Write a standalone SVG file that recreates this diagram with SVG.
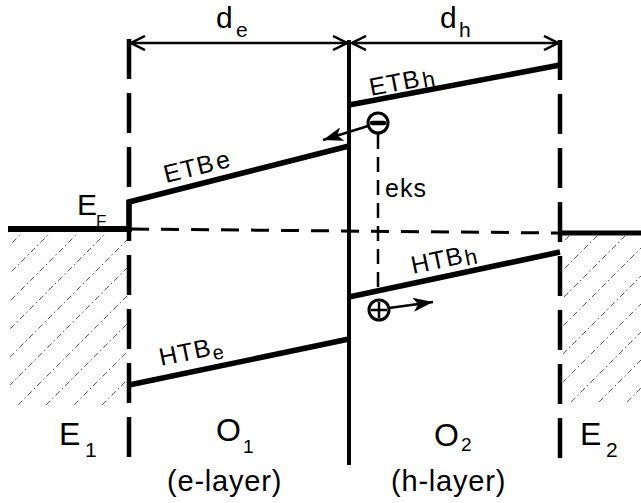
<svg xmlns="http://www.w3.org/2000/svg" width="641" height="503" viewBox="0 0 641 503">
  <style>
    .t { font-family: "Liberation Sans", Arial, sans-serif; fill: #000; }
    .band { stroke: #000; stroke-width: 5.5; fill: none; stroke-linecap: butt; }
    .vdash { stroke: #000; stroke-width: 4.5; stroke-dasharray: 40 14; fill: none; }
    .hatch { stroke: #444; stroke-width: 0.9; stroke-dasharray: 6 3 1.5 3; fill: none; }
  </style>
  <defs>
    <marker id="open" viewBox="0 0 16 16" refX="15" refY="8" markerWidth="16" markerHeight="16" markerUnits="userSpaceOnUse" orient="auto-start-reverse">
      <path d="M1,1 L15,8 L1,15" stroke="#000" stroke-width="2.5" fill="none"/>
    </marker>
    <marker id="solid" viewBox="0 0 20 14" refX="20" refY="7" markerWidth="20" markerHeight="14" markerUnits="userSpaceOnUse" orient="auto">
      <path d="M0,0 L20,7 L0,14 L5,7 z" fill="#000"/>
    </marker>
    <clipPath id="clipL"><rect x="10" y="233" width="117" height="172"/></clipPath>
    <clipPath id="clipR"><rect x="563" y="236" width="78" height="166"/></clipPath>
  </defs>

  <g id="electrode-E1">
    <g clip-path="url(#clipL)">
      <path class="hatch" d="M-150,405 L22,233 M-122,405 L50,233 M-94,405 L78,233 M-66,405 L106,233 M-38,405 L134,233 M-10,405 L162,233 M18,405 L190,233 M46,405 L218,233 M74,405 L246,233 M102,405 L274,233"/>
    </g>
    <line x1="8" y1="229" x2="131" y2="229" stroke="#000" stroke-width="6"/>
    <path class="vdash" d="M129,39 L129,458"/>
    <text class="t" x="59" y="445" font-size="32">E</text>
    <text class="t" x="85" y="457" font-size="21">1</text>
    <text class="t" x="77" y="215" font-size="30">E</text>
    <text class="t" x="96" y="227" font-size="17">F</text>
  </g>

  <g id="electrode-E2">
    <g clip-path="url(#clipR)">
      <path class="hatch" d="M403,402 L569,236 M431,402 L597,236 M459,402 L625,236 M487,402 L653,236 M515,402 L681,236 M543,402 L709,236 M571,402 L737,236 M599,402 L765,236 M627,402 L793,236"/>
    </g>
    <line x1="558" y1="233" x2="641" y2="233" stroke="#000" stroke-width="5"/>
    <path class="vdash" d="M560,40 L560,458"/>
    <text class="t" x="580" y="445" font-size="32">E</text>
    <text class="t" x="606" y="457" font-size="21">2</text>
  </g>

  <g id="layer-O1">
    <path class="band" d="M129,232 L129,202 L349,146"/>
    <path class="band" d="M129,385 L349,339"/>
    <text class="t" font-size="25" letter-spacing="1" transform="translate(166,183) rotate(-14)">ETB<tspan dx="2">e</tspan></text>
    <text class="t" font-size="25" letter-spacing="1" transform="translate(161,366) rotate(-11.7)">HTB<tspan font-size="20" dy="5">e</tspan></text>
    <text class="t" x="216" y="441" font-size="32">O</text>
    <text class="t" x="243" y="453" font-size="19">1</text>
    <text class="t" x="167" y="491" font-size="29" letter-spacing="0.8">(e-layer)</text>
  </g>

  <g id="layer-O2">
    <path class="band" d="M349,105 L560,65"/>
    <path class="band" d="M349,297 L560,252"/>
    <text class="t" font-size="25" letter-spacing="1" transform="translate(371,96) rotate(-10.8)">ETB<tspan font-size="22" dx="2" dy="2">h</tspan></text>
    <text class="t" font-size="25" letter-spacing="1" transform="translate(413,274) rotate(-12)">HTB<tspan font-size="22" dx="1" dy="3">h</tspan></text>
    <text class="t" x="434" y="446" font-size="32">O</text>
    <text class="t" x="461" y="451" font-size="19">2</text>
    <text class="t" x="391" y="491" font-size="29" letter-spacing="0.8">(h-layer)</text>
  </g>

  <g id="interface">
    <line x1="349" y1="40" x2="349" y2="465" stroke="#000" stroke-width="4"/>
  </g>

  <g id="electron">
    <circle cx="378" cy="123" r="10" fill="#fff" stroke="#000" stroke-width="3"/>
    <line x1="372" y1="123" x2="384" y2="123" stroke="#000" stroke-width="4.5" stroke-linecap="round"/>
  </g>

  <g id="hole">
    <circle cx="379" cy="310" r="10" fill="#fff" stroke="#000" stroke-width="3"/>
    <line x1="371" y1="310" x2="387" y2="310" stroke="#000" stroke-width="2.5"/>
    <line x1="379" y1="302" x2="379" y2="318" stroke="#000" stroke-width="2.5"/>
  </g>

  <g id="connectors">
    <line x1="131" y1="43" x2="347" y2="43" stroke="#000" stroke-width="2.5" marker-start="url(#open)" marker-end="url(#open)"/>
    <line x1="352" y1="43" x2="558" y2="43" stroke="#000" stroke-width="2.5" marker-start="url(#open)" marker-end="url(#open)"/>
    <line x1="131" y1="229" x2="560" y2="233" stroke="#000" stroke-width="3" stroke-dasharray="18 12"/>
    <line x1="378" y1="134" x2="378" y2="293" stroke="#000" stroke-width="2.5" stroke-dasharray="15 8"/>
    <line x1="368" y1="126" x2="323" y2="140" stroke="#000" stroke-width="2.5" marker-end="url(#solid)"/>
    <line x1="389" y1="308" x2="433" y2="302" stroke="#000" stroke-width="2.5" marker-end="url(#solid)"/>
  </g>

  <g id="labels">
    <text class="t" x="216" y="28" font-size="30">d</text>
    <text class="t" x="236" y="37" font-size="21">e</text>
    <text class="t" x="440" y="28" font-size="30">d</text>
    <text class="t" x="459" y="37" font-size="21">h</text>
    <text class="t" x="385" y="197" font-size="25" letter-spacing="1">eks</text>
  </g>
</svg>
